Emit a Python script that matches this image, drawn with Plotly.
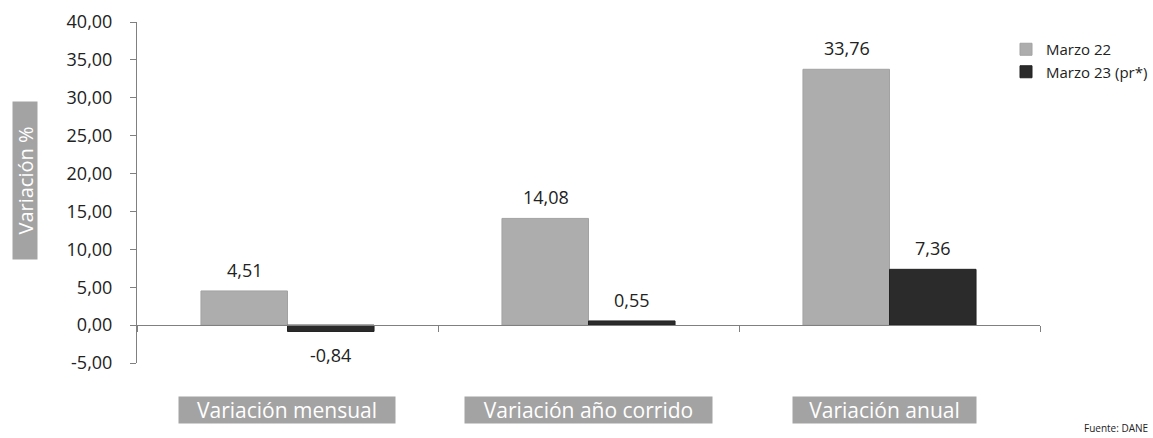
import plotly.graph_objects as go

categories = ["Variación mensual", "Variación año corrido", "Variación anual"]
marzo22 = [4.51, 14.08, 33.76]
marzo23 = [-0.84, 0.55, 7.36]
series_names = ["Marzo 22", "Marzo 23 (pr*)"]
y_ticks = [-5, 0, 5, 10, 15, 20, 25, 30, 35, 40]

GREY = "#adadad"
BLACK = "#2b2b2b"
FONT = "Open Sans, DejaVu Sans, sans-serif"
LABEL_BOX_W = [216, 247, 183]
LABEL_BOX_XSHIFT = [-1, 0, -5]

W, H = 1153, 438
plot_l, plot_r, plot_t, plot_b = 137, 1040, 22, 363


def fmt(v):
    return f"{v:.2f}".replace(".", ",")


fig = go.Figure()
fig.add_trace(go.Bar(x=categories, y=marzo22, name=series_names[0],
                     marker=dict(color=GREY, line=dict(color="#a2a2a2", width=1))))
fig.add_trace(go.Bar(x=categories, y=marzo23, name=series_names[1],
                     marker=dict(color=BLACK, line=dict(color="#222222", width=1))))

ann = []
for series, shift in ((marzo22, -43), (marzo23, 43)):
    for c, v in zip(categories, series):
        if v >= 0:
            ann.append(dict(x=c, y=v, xref="x", yref="y", text=fmt(v), showarrow=False,
                            xshift=shift, yanchor="bottom", yshift=7,
                            font=dict(family=FONT, size=18, color="#222222")))
        else:
            ann.append(dict(x=c, y=v, xref="x", yref="y", text=fmt(v), showarrow=False,
                            xshift=shift, yanchor="top", yshift=-10,
                            font=dict(family=FONT, size=18, color="#222222")))

for c, bw, xs in zip(categories, LABEL_BOX_W, LABEL_BOX_XSHIFT):
    ann.append(dict(x=c, y=0, xref="x", yref="paper", text=c, showarrow=False,
                    yanchor="middle", yshift=-(410 - plot_b), xshift=xs,
                    width=bw, height=26, align="center",
                    bgcolor="#a3a3a3", borderpad=0,
                    font=dict(family=FONT, size=21, color="#ffffff")))

ann.append(dict(x=(25 - plot_l) / (plot_r - plot_l), y=(plot_b - 181) / (plot_b - plot_t),
                xref="paper", yref="paper", text="Variación %", showarrow=False,
                xanchor="center", yanchor="middle",
                width=157, height=24,
                textangle=-90, bgcolor="#a3a3a3", borderpad=0,
                font=dict(family=FONT, size=20, color="#ffffff")))
ann.append(dict(x=(1150 - plot_l) / (plot_r - plot_l), y=(plot_b - 437) / (plot_b - plot_t),
                xref="paper", yref="paper", text="Fuente: DANE", showarrow=False,
                xanchor="right", yanchor="bottom",
                font=dict(family=FONT, size=10, color="#222222")))

fig.update_layout(
    width=W, height=H,
    margin=dict(l=plot_l, r=W - plot_r, t=plot_t, b=H - plot_b, autoexpand=False),
    paper_bgcolor="white", plot_bgcolor="white",
    barmode="group", bargap=0.425, bargroupgap=0,
    font=dict(family=FONT, color="#222222"),
    showlegend=True,
    legend=dict(x=(1006 - plot_l) / (plot_r - plot_l), y=1 - (33 - plot_t) / (plot_b - plot_t),
                xanchor="left", yanchor="top", bgcolor="rgba(0,0,0,0)",
                font=dict(family=FONT, size=15, color="#222222"),
                itemwidth=30, tracegroupgap=0),
    annotations=ann,
)
fig.update_yaxes(range=[-5, 40], tickvals=y_ticks, ticktext=[fmt(t) for t in y_ticks],
                 showline=True, linecolor="#808080", linewidth=1,
                 ticks="outside", ticklen=6, tickcolor="#808080",
                 ticklabelstandoff=14,
                 showgrid=False, zeroline=False,
                 tickfont=dict(family=FONT, size=18, color="#222222"))
fig.update_xaxes(showline=True, linecolor="#808080", linewidth=1,
                 anchor="free", position=5 / 45,
                 ticks="outside", tickson="boundaries", ticklen=6, tickcolor="#808080",
                 showticklabels=False, showgrid=False)

fig.write_html("out.html", config={"displayModeBar": False},
               post_script="document.body.style.margin='0';document.body.style.padding='0';")
